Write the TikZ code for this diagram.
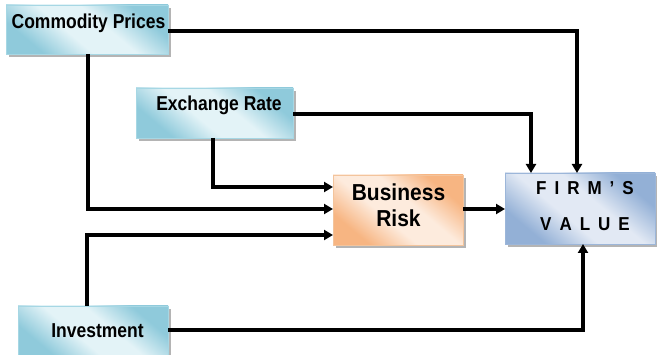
\documentclass[tikz,border=0pt]{standalone}
\usepackage{fontspec}
\setmainfont{Liberation Sans}
\usetikzlibrary{arrows.meta,shadows}
\definecolor{cydark}{HTML}{8FCADB}
\definecolor{cylight}{HTML}{E3F3F7}
\definecolor{cyedge}{HTML}{A6D7E4}
\definecolor{ordark}{HTML}{F7B582}
\definecolor{orlight}{HTML}{FDEBDD}
\definecolor{oredge}{HTML}{F3C49C}
\definecolor{bldark}{HTML}{93B0D6}
\definecolor{bllight}{HTML}{E2E9F4}
\definecolor{bledge}{HTML}{9CB6D9}
\definecolor{shad}{HTML}{B4B4B4}
\pgfdeclarehorizontalshading{cyrefl}{100bp}{color(0bp)=(cydark); color(27bp)=(cydark); color(43bp)=(cylight); color(57bp)=(cylight); color(73bp)=(cydark); color(100bp)=(cydark)}
\pgfdeclarehorizontalshading{orrefl}{100bp}{color(0bp)=(ordark); color(27bp)=(ordark); color(43bp)=(orlight); color(57bp)=(orlight); color(73bp)=(ordark); color(100bp)=(ordark)}
\pgfdeclarehorizontalshading{blrefl}{100bp}{color(0bp)=(bldark); color(27bp)=(bldark); color(43bp)=(bllight); color(57bp)=(bllight); color(73bp)=(bldark); color(100bp)=(bldark)}
\tikzset{
  x=1pt,y=-1pt,
  box/.style={draw, line width=0.8pt, inner sep=0pt, outer sep=0pt,
    drop shadow={shadow xshift=3pt, shadow yshift=-3pt, fill=shad, opacity=1}},
  cybox/.style={box, draw=cyedge, shading=cyrefl, shading angle=50},
  orbox/.style={box, draw=oredge, shading=orrefl, shading angle=50},
  blbox/.style={box, draw=bledge, shading=blrefl, shading angle=50},
  lbl/.style={font=\bfseries\fontsize{17.5}{20}\selectfont, inner sep=0pt, yscale=1.15, transform shape},
  conn/.style={line width=3.3pt, line join=miter},
  arr/.style={conn, -{Triangle[length=9pt,width=10pt]}}
}
\newcommand{\spc}{\hspace{8pt}}
\begin{document}
\begin{tikzpicture}
\useasboundingbox (0,0) rectangle (657,355);
% boxes
\node[cybox, minimum width=162pt, minimum height=49pt] (cp) at (87,29.5) {};
\node[cybox, minimum width=157pt, minimum height=50pt] (er) at (214.5,113) {};
\node[cybox, minimum width=150pt, minimum height=50pt] (inv) at (93,331) {};
\node[orbox, minimum width=130pt, minimum height=70pt] (br) at (398,210) {};
\node[blbox, minimum width=150pt, minimum height=71pt] (fv) at (580,208.5) {};
% texts
\node[lbl] (cpt) at (88.5,23.5) {Commodity Prices};
\node[lbl] (ert) at (219,105.5) {Exchange Rate};
\node[lbl] (invt) at (97.5,331) {Investment};
\node[font=\bfseries\fontsize{21}{24}\selectfont, align=center, inner sep=0pt, yscale=1.1, transform shape] (brt) at (398.5,205) {Business\\Risk};
\node[font=\bfseries\fontsize{17}{32}\selectfont, align=center, inner sep=0pt, yscale=1.1, transform shape] (fvt) at (585,206)
  {F\spc I\spc R\spc M\spc ’\spc S\\V\spc A\spc L\spc U\spc E};
% connectors
\coordinate (c1) at (577,31);
\coordinate (c2) at (531,114);
\draw[arr] (cp.east |- c1) -| (fv.north -| c1);
\draw[arr] (er.east |- c2) -| (fv.north -| c2);
\draw[arr] (cp.south -| 88,0) |- (br.west |- 0,209);
\draw[arr] (er.south -| 213,0) |- (br.west |- 0,187);
\draw[arr] (inv.north -| 87,0) |- (br.west |- 0,235);
\draw[arr] (inv.east |- 0,330) -| (fv.south -| 583,0);
\draw[arr] (br.east |- 0,209) -- (fv.west |- 0,209);
\end{tikzpicture}
\end{document}
